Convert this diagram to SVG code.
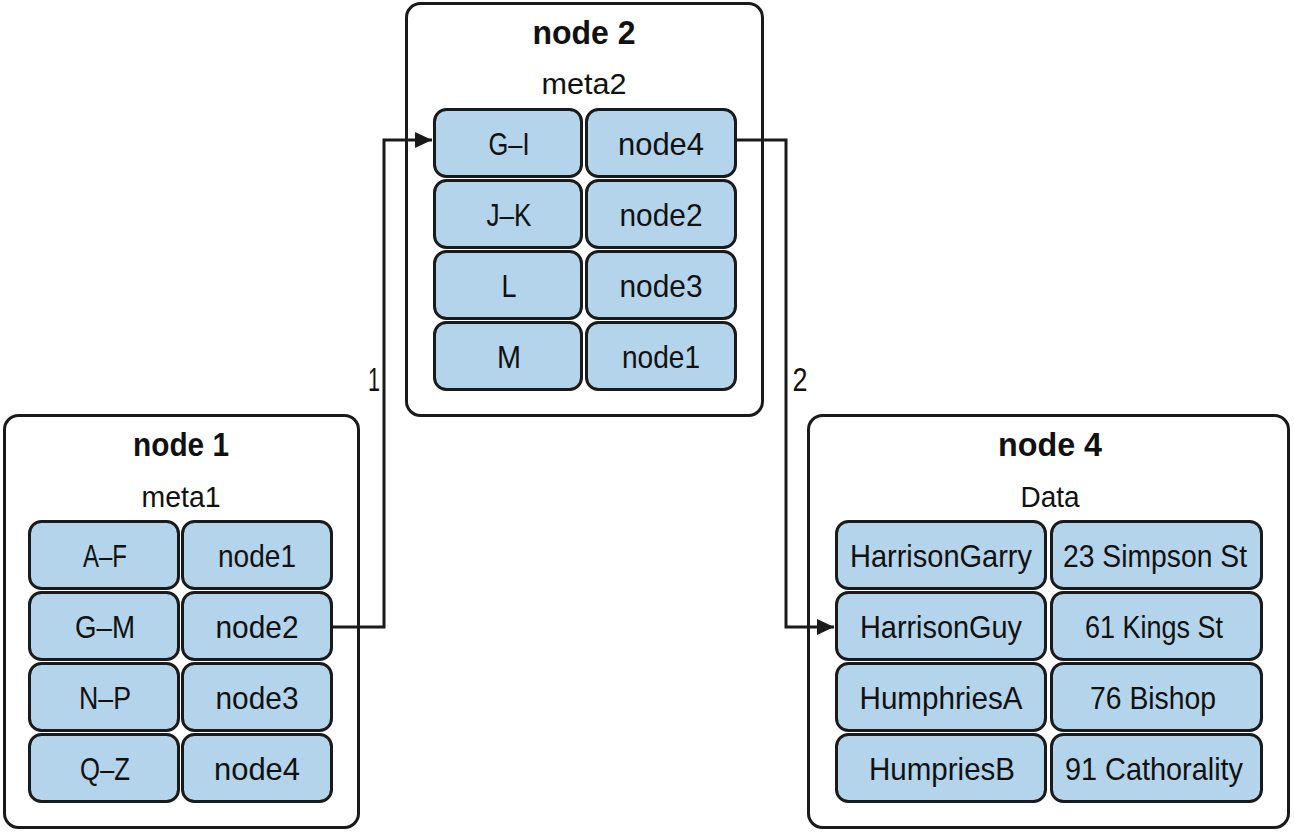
<svg xmlns="http://www.w3.org/2000/svg" width="1294" height="832" viewBox="0 0 1294 832">
<style>
.box{fill:#ffffff;stroke:#1a1a1a;stroke-width:3}
.cell{fill:#b3d4ea;stroke:#1a1a1a;stroke-width:3}
.t{font-family:"Liberation Sans",Arial,sans-serif;font-size:32px;fill:#111;text-anchor:middle}
.h{font-family:"Liberation Sans",Arial,sans-serif;font-size:34px;font-weight:bold;fill:#111;text-anchor:middle}
.s{font-family:"Liberation Sans",Arial,sans-serif;font-size:30px;fill:#111;text-anchor:middle}
.conn{fill:none;stroke:#1a1a1a;stroke-width:3}
</style>
<defs>
<marker id="arr" markerUnits="userSpaceOnUse" markerWidth="18" markerHeight="16" refX="17" refY="8" orient="auto">
<path d="M0,0 L17,8 L0,16 z" fill="#1a1a1a"/>
</marker>
</defs>
<rect width="1294" height="832" fill="#ffffff"/>

<g id="node1">
<rect class="box" x="4.5" y="415.5" width="354" height="412" rx="14"/>
<text class="h" x="181" y="456" textLength="96" lengthAdjust="spacingAndGlyphs">node 1</text>
<text class="s" x="181" y="507" textLength="79" lengthAdjust="spacingAndGlyphs">meta1</text>
<rect class="cell" x="29.5" y="521.5" width="149" height="67" rx="12"/>
<rect class="cell" x="182.5" y="521.5" width="149" height="67" rx="12"/>
<rect class="cell" x="29.5" y="592.5" width="149" height="67" rx="12"/>
<rect class="cell" x="182.5" y="592.5" width="149" height="67" rx="12"/>
<rect class="cell" x="29.5" y="663.5" width="149" height="67" rx="12"/>
<rect class="cell" x="182.5" y="663.5" width="149" height="67" rx="12"/>
<rect class="cell" x="29.5" y="734.5" width="149" height="67" rx="12"/>
<rect class="cell" x="182.5" y="734.5" width="149" height="67" rx="12"/>
<text class="t" x="105" y="567" textLength="44" lengthAdjust="spacingAndGlyphs">A–F</text>
<text class="t" x="257" y="567" textLength="78" lengthAdjust="spacingAndGlyphs">node1</text>
<text class="t" x="105" y="638" textLength="60" lengthAdjust="spacingAndGlyphs">G–M</text>
<text class="t" x="257" y="638" textLength="83" lengthAdjust="spacingAndGlyphs">node2</text>
<text class="t" x="105" y="709" textLength="52" lengthAdjust="spacingAndGlyphs">N–P</text>
<text class="t" x="257" y="709" textLength="83" lengthAdjust="spacingAndGlyphs">node3</text>
<text class="t" x="105" y="780" textLength="50" lengthAdjust="spacingAndGlyphs">Q–Z</text>
<text class="t" x="257" y="780" textLength="86" lengthAdjust="spacingAndGlyphs">node4</text>
</g>

<g id="node2">
<rect class="box" x="406.5" y="3.5" width="356" height="412" rx="14"/>
<text class="h" x="584" y="44" textLength="103" lengthAdjust="spacingAndGlyphs">node 2</text>
<text class="s" x="584" y="94" textLength="85" lengthAdjust="spacingAndGlyphs">meta2</text>
<rect class="cell" x="434.5" y="109.5" width="147" height="67" rx="12"/>
<rect class="cell" x="586.5" y="109.5" width="149" height="67" rx="12"/>
<rect class="cell" x="434.5" y="180.5" width="147" height="67" rx="12"/>
<rect class="cell" x="586.5" y="180.5" width="149" height="67" rx="12"/>
<rect class="cell" x="434.5" y="251.5" width="147" height="67" rx="12"/>
<rect class="cell" x="586.5" y="251.5" width="149" height="67" rx="12"/>
<rect class="cell" x="434.5" y="322.5" width="147" height="67" rx="12"/>
<rect class="cell" x="586.5" y="322.5" width="149" height="67" rx="12"/>
<text class="t" x="509" y="155" textLength="41" lengthAdjust="spacingAndGlyphs">G–I</text>
<text class="t" x="661" y="155" textLength="86" lengthAdjust="spacingAndGlyphs">node4</text>
<text class="t" x="509" y="226" textLength="45" lengthAdjust="spacingAndGlyphs">J–K</text>
<text class="t" x="661" y="226" textLength="83" lengthAdjust="spacingAndGlyphs">node2</text>
<text class="t" x="509" y="297" textLength="15" lengthAdjust="spacingAndGlyphs">L</text>
<text class="t" x="661" y="297" textLength="83" lengthAdjust="spacingAndGlyphs">node3</text>
<text class="t" x="509" y="368" textLength="24" lengthAdjust="spacingAndGlyphs">M</text>
<text class="t" x="661" y="368" textLength="78" lengthAdjust="spacingAndGlyphs">node1</text>
</g>

<g id="node4">
<rect class="box" x="808.5" y="415.5" width="480" height="412" rx="14"/>
<text class="h" x="1050" y="456" textLength="104" lengthAdjust="spacingAndGlyphs">node 4</text>
<text class="s" x="1050" y="507" textLength="59" lengthAdjust="spacingAndGlyphs">Data</text>
<rect class="cell" x="836.5" y="521.5" width="209" height="67" rx="12"/>
<rect class="cell" x="1051.5" y="521.5" width="210" height="67" rx="12"/>
<rect class="cell" x="836.5" y="592.5" width="209" height="67" rx="12"/>
<rect class="cell" x="1051.5" y="592.5" width="210" height="67" rx="12"/>
<rect class="cell" x="836.5" y="663.5" width="209" height="67" rx="12"/>
<rect class="cell" x="1051.5" y="663.5" width="210" height="67" rx="12"/>
<rect class="cell" x="836.5" y="734.5" width="209" height="67" rx="12"/>
<rect class="cell" x="1051.5" y="734.5" width="210" height="67" rx="12"/>
<text class="t" x="941" y="567" textLength="182" lengthAdjust="spacingAndGlyphs">HarrisonGarry</text>
<text class="t" x="1155" y="567" textLength="184" lengthAdjust="spacingAndGlyphs">23 Simpson St</text>
<text class="t" x="941" y="638" textLength="162" lengthAdjust="spacingAndGlyphs">HarrisonGuy</text>
<text class="t" x="1154" y="638" textLength="138" lengthAdjust="spacingAndGlyphs">61 Kings St</text>
<text class="t" x="941" y="709" textLength="163" lengthAdjust="spacingAndGlyphs">HumphriesA</text>
<text class="t" x="1153" y="709" textLength="126" lengthAdjust="spacingAndGlyphs">76 Bishop</text>
<text class="t" x="942" y="780" textLength="146" lengthAdjust="spacingAndGlyphs">HumpriesB</text>
<text class="t" x="1154" y="780" textLength="178" lengthAdjust="spacingAndGlyphs">91 Cathorality</text>
</g>

<g id="connectors">
<path class="conn" d="M333,627 H384 V140 H432" marker-end="url(#arr)"/>
<path class="conn" d="M737,140 H786 V627 H834" marker-end="url(#arr)"/>
<text class="s" x="374" y="391" style="font-size:34px" textLength="12" lengthAdjust="spacingAndGlyphs">1</text>
<text class="s" x="800" y="391" style="font-size:34px" textLength="15" lengthAdjust="spacingAndGlyphs">2</text>
</g>
</svg>
